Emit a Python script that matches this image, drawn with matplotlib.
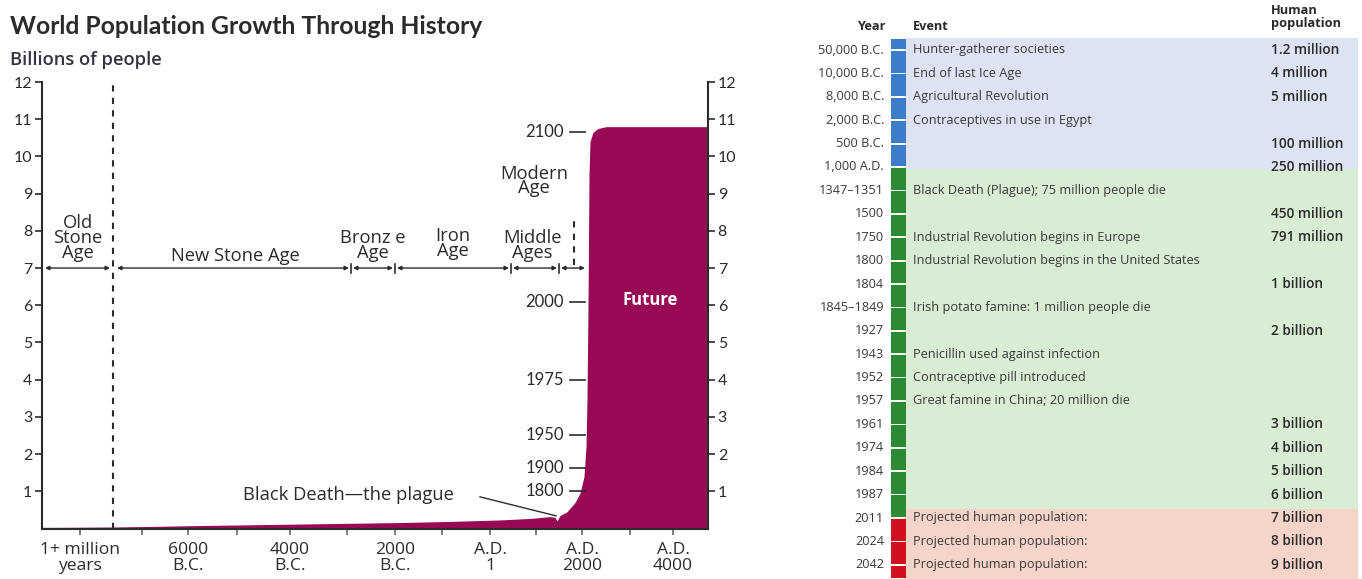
import matplotlib
matplotlib.use("Agg")
import matplotlib.pyplot as plt

W, H = 1362, 579

# ---------------- data ----------------
# schematic time axis (units along the drawn axis)
xtick_pos = [38, 146, 248, 353, 448, 540, 631]
xtick_labels = ["1+ million\nyears", "6000\nB.C.", "4000\nB.C.", "2000\nB.C.", "A.D.\n1", "A.D.\n2000", "A.D.\n4000"]
xminor_pos = [100, 195, 305, 400, 494, 588]

# population curve (billions) along schematic axis
curve_x = [0, 40, 71, 118, 158, 208, 258, 308, 358, 408, 458, 488, 508, 513, 515, 518,
           525, 533, 538, 542, 544, 545, 546, 547, 548, 551, 556, 564, 666]
curve_y = [0.03, 0.035, 0.04, 0.06, 0.08, 0.1, 0.12, 0.14, 0.16, 0.19, 0.23, 0.27, 0.32, 0.30, 0.20, 0.35,
           0.45, 0.7, 0.95, 1.4, 2.2, 3.5, 6.0, 9.5, 10.4, 10.65, 10.75, 10.8, 10.8]

year_marks = ["2100", "2000", "1975", "1950", "1900", "1800"]
year_mark_vals = [10.66, 6.1, 4.0, 2.5, 1.63, 1.0]

age_names = ["Old\nStone\nAge", "New Stone Age", "Bronz e\nAge", "Iron\nAge", "Middle\nAges", ""]
age_spans = [(3, 68), (75, 307), (311, 351), (355, 467), (471, 515), (519, 543)]

# table data
tbl_years = ["50,000 B.C.", "10,000 B.C.", "8,000 B.C.", "2,000 B.C.", "500 B.C.", "1,000 A.D.",
             "1347\u20131351", "1500", "1750", "1800", "1804", "1845\u20131849", "1927", "1943",
             "1952", "1957", "1961", "1974", "1984", "1987", "2011", "2024", "2042"]
tbl_events = ["Hunter-gatherer societies", "End of last Ice Age", "Agricultural Revolution",
              "Contraceptives in use in Egypt", "", "",
              "Black Death (Plague); 75 million people die", "",
              "Industrial Revolution begins in Europe", "Industrial Revolution begins in the United States",
              "", "Irish potato famine: 1 million people die", "", "Penicillin used against infection",
              "Contraceptive pill introduced", "Great famine in China; 20 million die", "", "", "", "",
              "Projected human population:", "Projected human population:", "Projected human population:"]
tbl_pops = ["1.2 million", "4 million", "5 million", "", "100 million", "250 million", "",
            "450 million", "791 million", "", "1 billion", "", "2 billion", "", "", "",
            "3 billion", "4 billion", "5 billion", "6 billion", "7 billion", "8 billion", "9 billion"]
tbl_era = [0, 0, 0, 0, 0, 0, 1, 1, 1, 1, 1, 1, 1, 1, 1, 1, 1, 1, 1, 1, 2, 2, 2]

# ---------------- style ----------------
FONT = "Lato"
WFONT = "Open Sans"
TXT = "#2b2b2b"
FILL = "#990a55"
era_bar = ["#3d7cc9", "#2d8a34", "#d0101e"]
era_bg = ["#dde3f3", "#d9edd5", "#f6d4ca"]
LFS = 13.2

fig = plt.figure(figsize=(W / 100, H / 100), dpi=100)
fig.patch.set_facecolor("white")

# ---------------- left chart ----------------
ax = fig.add_axes([42 / W, (H - 528.5) / H, 666 / W, 446.5 / H])
ax.set_xlim(0, 666)
ax.set_ylim(0, 12)
ax.fill_between(curve_x, 0, curve_y, color=FILL, lw=0, zorder=2)

ax.spines["top"].set_visible(False)
for s in ["left", "right", "bottom"]:
    ax.spines[s].set_color(TXT)
    ax.spines[s].set_linewidth(1.5)

ax.set_yticks(range(1, 13))
ax.set_yticklabels([str(v) for v in range(1, 13)])
ax.yaxis.set_ticks_position("both")
ax.tick_params(axis="y", labelright=True, labelleft=True, direction="out", length=5,
               width=1.2, color=TXT, labelsize=11.5, labelcolor=TXT, pad=2)
ax.set_xticks(xtick_pos)
ax.set_xticklabels(xtick_labels)
ax.set_xticks(xminor_pos, minor=True)
ax.tick_params(axis="x", which="both", direction="out", length=4, width=1.2, color="#666666",
               labelsize=12.6, labelcolor=TXT, pad=6)
for lab in ax.get_yticklabels():
    lab.set_fontfamily(FONT)
for lab in ax.get_xticklabels():
    lab.set_fontfamily(WFONT)
    lab.set_linespacing(0.95)

# dashed separators
ax.plot([71, 71], [0, 12], ls=(0, (3, 3)), color=TXT, lw=1.5, zorder=3)
ax.plot([532, 532], [7.08, 8.43], ls=(0, (3, 3)), color=TXT, lw=1.5, zorder=3)

# age arrows
for (a, b) in age_spans:
    ax.annotate("", xy=(a, 7.0), xytext=(b, 7.0),
                arrowprops=dict(arrowstyle="<|-|>", color=TXT, lw=1.0,
                                mutation_scale=6, shrinkA=0, shrinkB=0))
for bx in [309, 353, 469, 517]:
    ax.plot([bx, bx], [6.88, 7.12], color=TXT, lw=1.2)

age_lbl_pos = [(36, 7.81), (193, 7.33), (331, 7.6), (411, 7.65), (490, 7.6), (0, 0)]
for name, (x, y) in zip(age_names, age_lbl_pos):
    if name:
        ax.text(x, y, name, ha="center", va="center", fontsize=LFS, family=WFONT,
                color=TXT, linespacing=0.78)
ax.text(492, 9.34, "Modern\nAge", ha="center", va="center", fontsize=LFS, family=WFONT,
        color=TXT, linespacing=0.78)

# year marks beside the curve
for lab, v in zip(year_marks, year_mark_vals):
    ax.text(522, v, lab, ha="right", va="center", fontsize=12, family=FONT, color=TXT)
    ax.plot([528, 543], [v, v], color=TXT, lw=1.2)

ax.text(608, 6.14, "Future", ha="center", va="center", fontsize=12, family=WFONT,
        color="white", fontweight="bold")
ax.text(306, 0.9, "Black Death\u2014the plague", ha="center", va="center", fontsize=LFS,
        family=WFONT, color=TXT)
ax.plot([438, 514], [0.85, 0.34], color=TXT, lw=1.0)

fig.text(10 / W, 1 - 27 / H, "World Population Growth Through History", fontsize=17.8,
         family=FONT, fontweight="bold", color=TXT, va="center", ha="left")
fig.text(10 / W, 1 - 60 / H, "Billions of people", fontsize=13.2, family=WFONT,
         fontweight="semibold", color="#333344", va="center", ha="left")

# ---------------- right table ----------------
tx = fig.add_axes([0, 0, 1, 1])
tx.set_xlim(0, W)
tx.set_ylim(H, 0)
tx.axis("off")
tx.patch.set_alpha(0)

TFONT = "Open Sans"
TFS = 9.2
y0, dy = 50.0, 23.4
n = len(tbl_years)
row_y = [y0 + i * dy for i in range(n)]

# band backgrounds
bounds = [38, y0 + 5.1 * dy, y0 + 19.6 * dy, H]
for e in range(3):
    tx.fill_between([905, 1358], bounds[e], bounds[e + 1], color=era_bg[e], lw=0)

# coloured bar segments split at row centres
edges = [38] + row_y + [H]
for i in range(len(edges) - 1):
    top, bot = edges[i], edges[i + 1]
    mid = (top + bot) / 2
    era = 0 if mid < bounds[1] else (1 if mid < bounds[2] else 2)
    tx.fill_between([891, 906], top + 0.9, bot - 0.9, color=era_bar[era], lw=0)

for yv, yr, ev, pp in zip(row_y, tbl_years, tbl_events, tbl_pops):
    tx.text(884, yv, yr, ha="right", va="center", fontsize=TFS, family=TFONT, color="#3a3a3a")
    if ev:
        tx.text(913, yv, ev, ha="left", va="center", fontsize=TFS, family=TFONT, color="#3a3a3a")
    if pp:
        tx.text(1271, yv, pp, ha="left", va="center", fontsize=9.8, family=TFONT,
                color="#2a2a2a", fontweight="semibold")

tx.text(886, 26, "Year", ha="right", va="center", fontsize=TFS, family=TFONT,
        color="#2a2a2a", fontweight="bold")
tx.text(913, 26, "Event", ha="left", va="center", fontsize=TFS, family=TFONT,
        color="#2a2a2a", fontweight="bold")
tx.text(1271, 17, "Human\npopulation", ha="left", va="center", fontsize=TFS, family=TFONT,
        color="#2a2a2a", fontweight="bold", linespacing=0.9)

fig.savefig("out.png", dpi=100, facecolor="white")
